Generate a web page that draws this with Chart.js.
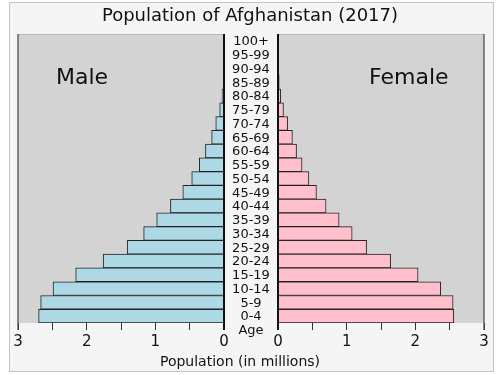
<!DOCTYPE html>
<html>
<head>
<meta charset="utf-8">
<script src="https://cdn.jsdelivr.net/npm/chart.js@4"></script>
<style>
  body { margin: 0; background: #fff; }
  #wrap { position: relative; width: 500px; height: 375px; }
  #frame { position: absolute; left: 9px; top: 2px; width: 483px; height: 368px; border: 1px solid #c4c4c4; background: #f5f5f5; }
  canvas { position: absolute; left: 0; top: 0; }
</style>
</head>
<body>
<div id="wrap">
  <div id="frame"></div>
  <canvas id="male" width="500" height="375"></canvas>
  <canvas id="female" width="500" height="375"></canvas>
</div>
<script>
const ageGroups = ['100+', '95-99', '90-94', '85-89', '80-84', '75-79', '70-74', '65-69', '60-64', '55-59',
    '50-54', '45-49', '40-44', '35-39', '30-34', '25-29', '20-24', '15-19', '10-14', '5-9', '0-4'];
// millions, top row first
const maleValues = [0.001, 0.002, 0.004, 0.012, 0.03, 0.063, 0.12, 0.18, 0.27, 0.36,
    0.47, 0.60, 0.78, 0.98, 1.17, 1.41, 1.76, 2.16, 2.49, 2.67, 2.70];
const femaleValues = [0.001, 0.002, 0.005, 0.018, 0.04, 0.08, 0.14, 0.21, 0.27, 0.35,
    0.45, 0.56, 0.70, 0.89, 1.08, 1.29, 1.64, 2.04, 2.37, 2.55, 2.56];
const xTicks = [0, 1, 2, 3];

Chart.defaults.font.family = 'DejaVu Sans';
Chart.defaults.color = '#111';

// grey panel + vertical edge lines
const panelPlugin = {
    id: 'panel',
    beforeDatasetsDraw(chart, args, opts) {
        const { ctx, chartArea: a } = chart;
        ctx.save();
        ctx.fillStyle = '#d3d3d3';
        ctx.fillRect(a.left, a.top, a.right - a.left, a.bottom - a.top);
        ctx.strokeStyle = '#b8b8b8';
        ctx.lineWidth = 1;
        ctx.beginPath();
        ctx.moveTo(a.left, a.top + 0.5);
        ctx.lineTo(a.right, a.top + 0.5);
        ctx.stroke();
        ctx.restore();
    },
    afterDatasetsDraw(chart, args, opts) {
        const { ctx, chartArea: a } = chart;
        const inner = opts.side === 'left' ? a.right : a.left;
        const outer = opts.side === 'left' ? a.left : a.right;
        ctx.save();
        ctx.strokeStyle = '#111';
        ctx.lineWidth = 2;
        ctx.beginPath();
        ctx.moveTo(inner, a.top);
        ctx.lineTo(inner, a.bottom + 7);
        ctx.stroke();
        ctx.strokeStyle = '#444';
        ctx.lineWidth = 1.2;
        ctx.beginPath();
        ctx.moveTo(outer, a.top);
        ctx.lineTo(outer, a.bottom + 7);
        ctx.stroke();
        ctx.restore();
    }
};

// title, side labels, age column, axis title
const textPlugin = {
    id: 'texts',
    afterDraw(chart) {
        const { ctx } = chart;
        const y = chart.scales.y;
        ctx.save();
        ctx.fillStyle = '#111';
        ctx.textAlign = 'center';
        ctx.textBaseline = 'alphabetic';
        ctx.font = '18px "DejaVu Sans"';
        ctx.fillText('Population of Afghanistan (2017)', 250, 21);
        ctx.font = '22px "DejaVu Sans"';
        ctx.textAlign = 'left';
        ctx.fillText('Male', 56, 84);
        ctx.fillText('Female', 369, 84);
        ctx.textAlign = 'center';
        ctx.font = '14px "DejaVu Sans"';
        ctx.fillText('Population (in millions)', 240, 366);
        ctx.font = '13px "DejaVu Sans"';
        ctx.textBaseline = 'middle';
        ageGroups.forEach((label, i) => {
            ctx.fillText(label, 251, y.getPixelForValue(i) + 1);
        });
        ctx.fillText('Age', 251, y.getPixelForValue(ageGroups.length) + 1);
        ctx.restore();
    }
};

function makePanel(canvas, values, color, side) {
    const padding = side === 'left'
        ? { left: 18, right: 276, top: 34, bottom: 0 }
        : { left: 278, right: 16, top: 34, bottom: 0 };
    const config = {
        type: 'bar',
        data: {
            labels: ageGroups,
            datasets: [{
                data: values,
                backgroundColor: color,
                borderColor: '#222',
                borderWidth: 1,
                categoryPercentage: 1,
                barPercentage: 1,
            }],
        },
        options: {
            indexAxis: 'y',
            responsive: false,
            animation: false,
            layout: { padding: padding },
            plugins: {
                legend: { display: false },
                tooltip: { enabled: false },
                panel: { side: side },
            },
            scales: {
                x: {
                    min: 0,
                    max: 3,
                    reverse: side === 'left',
                    afterFit: (s) => { s.height = 52; },
                    grid: { drawOnChartArea: false, drawTicks: true, tickLength: 7, color: '#333' },
                    border: { display: false },
                    ticks: {
                        stepSize: 0.5,
                        autoSkip: false,
                        maxRotation: 0,
                        font: { size: 15 },
                        color: '#111',
                        callback: (v) => xTicks.includes(v) ? String(v) : '',
                    },
                },
                y: { display: false },
            },
        },
        plugins: side === 'left' ? [panelPlugin] : [panelPlugin, textPlugin],
    };
    return new Chart(canvas.getContext('2d'), config);
}

makePanel(document.getElementById('male'), maleValues, '#add8e6', 'left');
makePanel(document.getElementById('female'), femaleValues, '#ffc0cb', 'right');
</script>
</body>
</html>
